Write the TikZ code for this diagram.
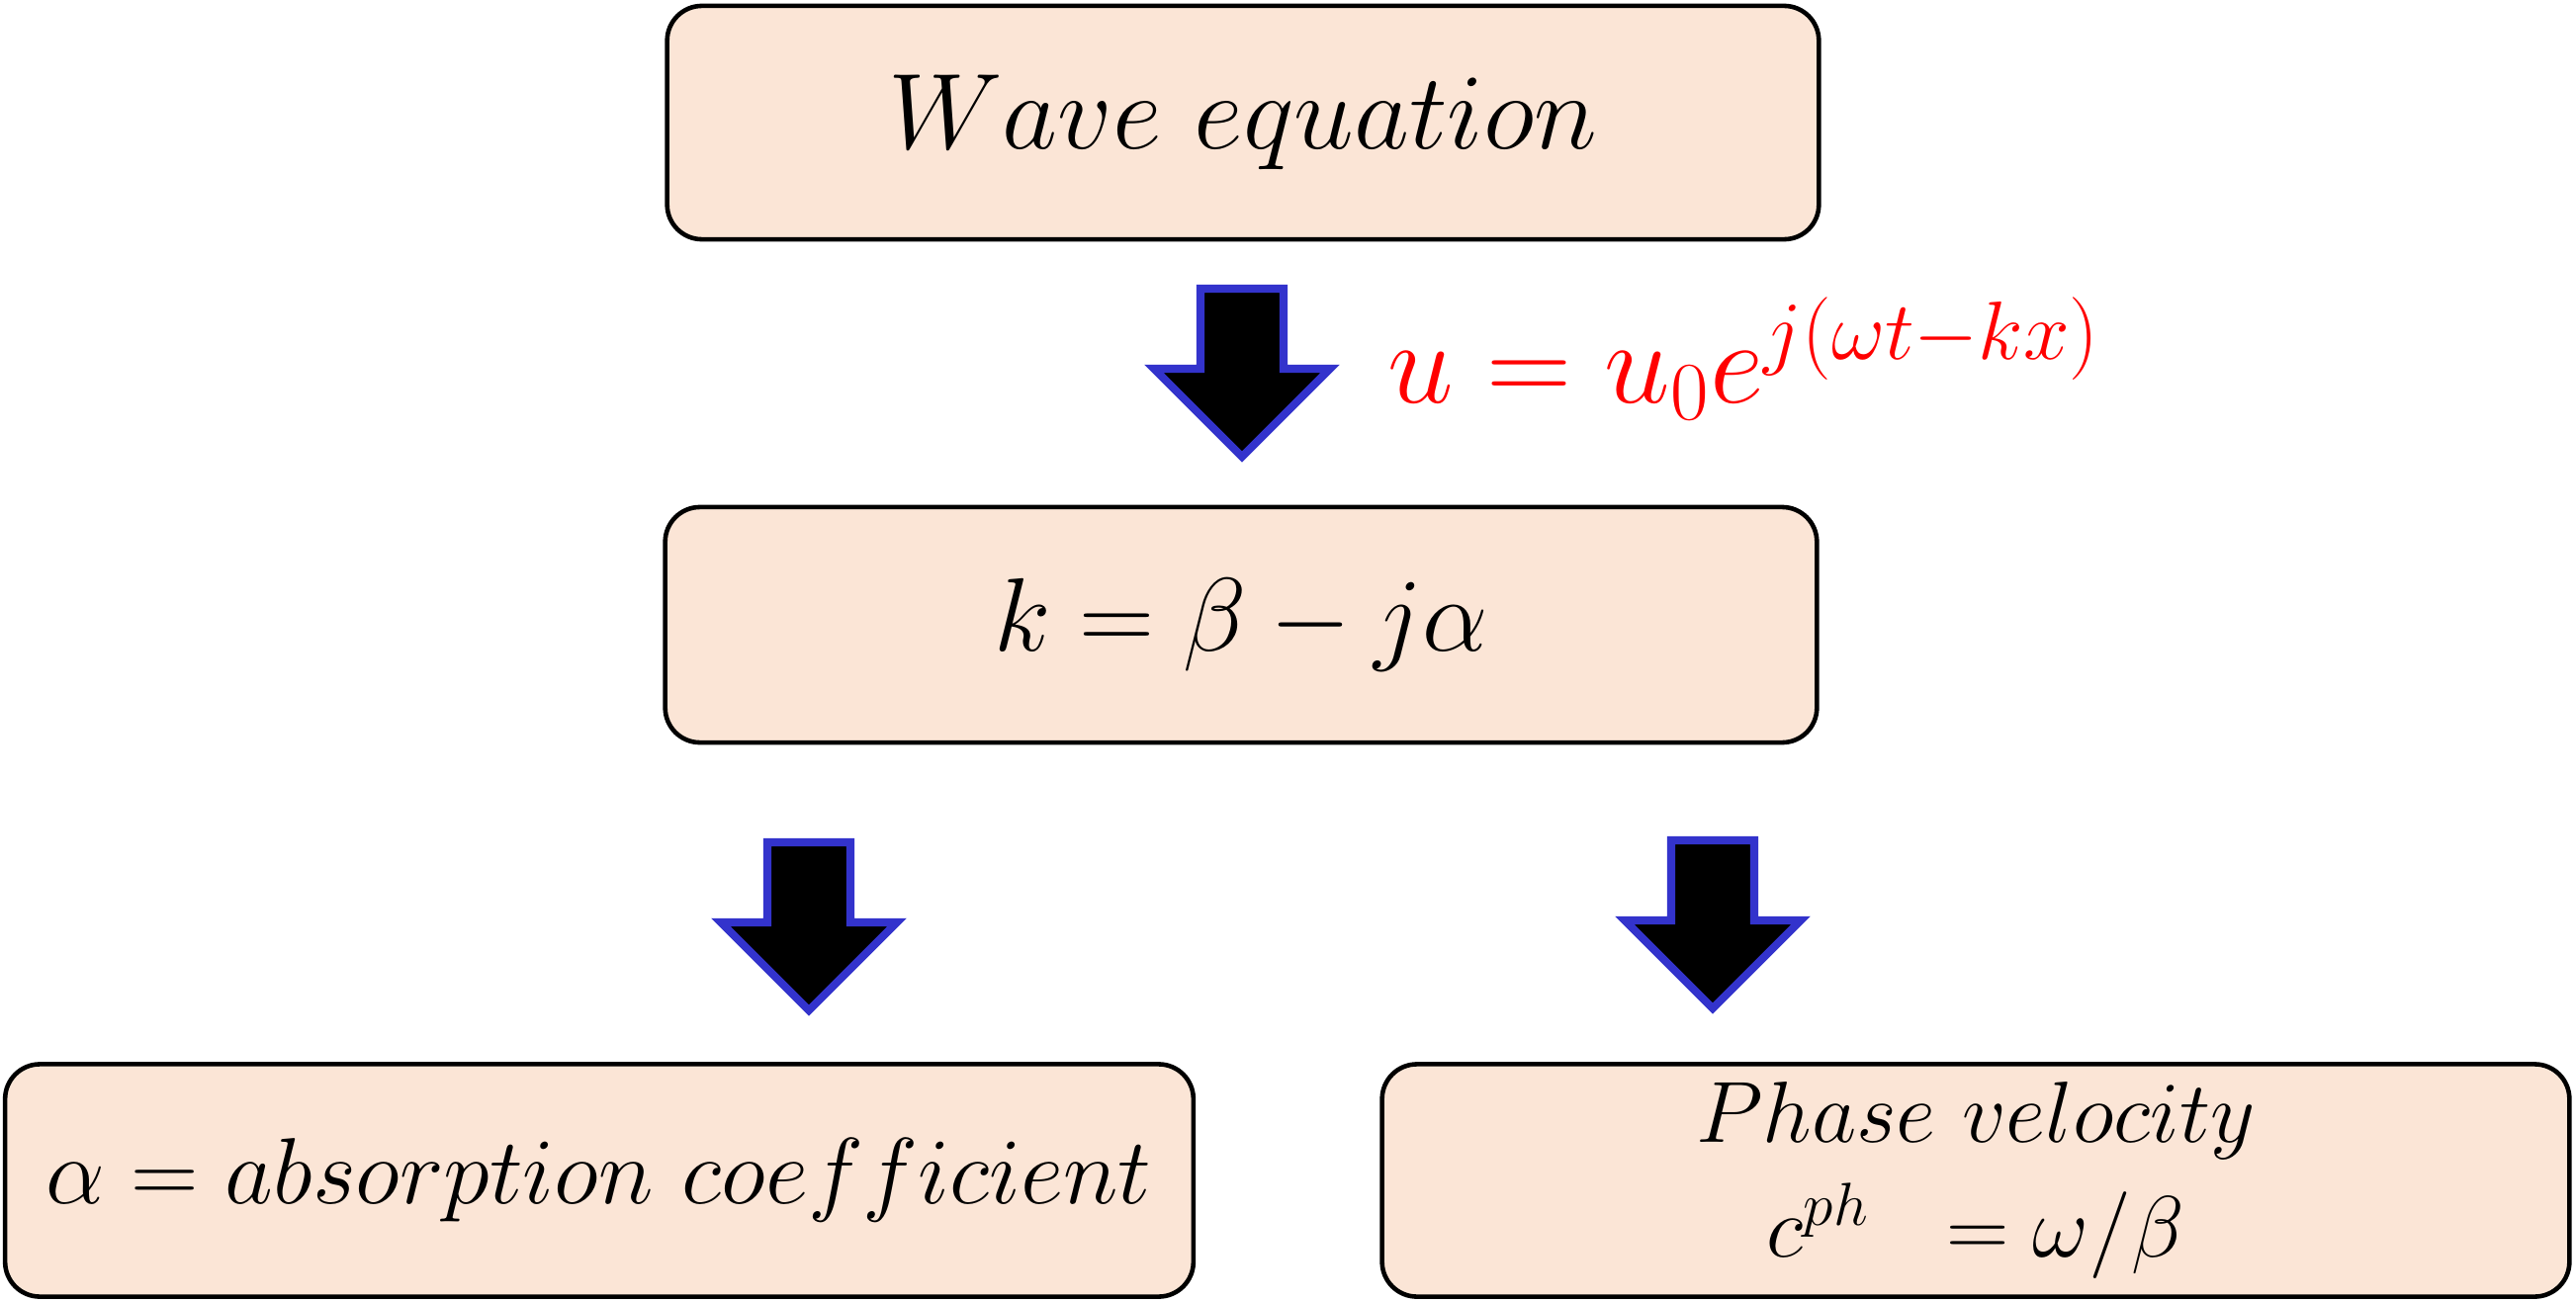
\RequirePackage{fix-cm}
\documentclass[tikz,border=0pt]{standalone}
\begin{document}
\begin{tikzpicture}[x=0.01cm,y=-0.01cm,
  box/.style={draw=black, line width=1.3pt, fill=peach, rounded corners=10pt, inner sep=0pt, align=center},
  arrowshape/.style={draw=arrowblue, fill=black, line width=2.3pt, line join=miter},
  downarrow/.pic={\path[arrowshape] (-42,4) -- (42,4) -- (42,85) -- (89,85) -- (0,174) -- (-89,85) -- (-42,85) -- cycle;}
]
\definecolor{peach}{RGB}{251,229,214}
\definecolor{arrowblue}{RGB}{51,51,204}
\useasboundingbox (0,0) rectangle (2605,1318);

\node[box, minimum width=11.64cm, minimum height=2.36cm] (wave) at (1257,124)
  {\fontsize{31}{37}\selectfont $Wave\ equation$};
\node[box, minimum width=11.64cm, minimum height=2.38cm] (kb) at (1255,632)
  {\fontsize{30}{36}\selectfont $k=\beta-j\alpha$};
\node[box, minimum width=12.01cm, minimum height=2.35cm] (abs) at (606,1194)
  {\fontsize{27}{32}\selectfont $\alpha=absorption\ coefficient$};
\node[box, minimum width=12.00cm, minimum height=2.35cm] (ph) at (1998,1194)
  {\fontsize{25}{31.6}\selectfont $Phase\ velocity$\\[6pt] \fontsize{25}{31.6}\selectfont $c^{ph}\ \ =\omega/\beta$};

\coordinate (a1) at (1256,288);
\coordinate (a2) at (818,848);
\coordinate (a3) at (1732,846);
\pic at (a1) {downarrow};
\pic at (a2) {downarrow};
\pic at (a3) {downarrow};

\node[anchor=base west, inner sep=0pt, text=red] (eq) at (1403,407)
  {\fontsize{34}{40}\selectfont $u=u_0e^{j(\omega t-kx)}$};
\end{tikzpicture}
\end{document}
